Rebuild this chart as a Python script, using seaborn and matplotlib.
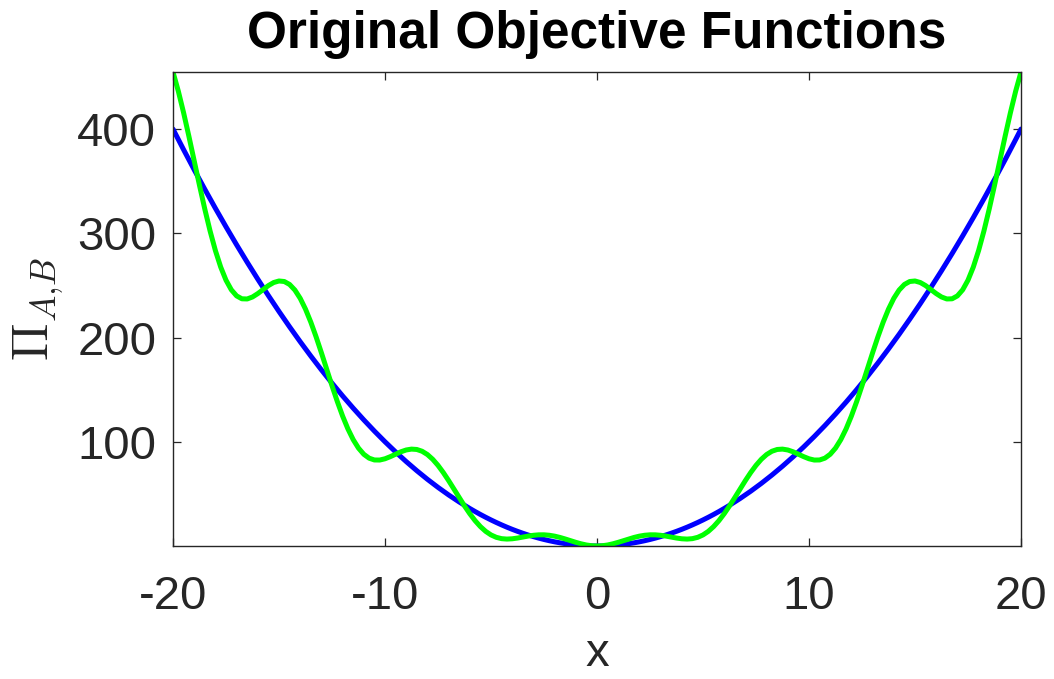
import matplotlib
matplotlib.use("Agg")
import matplotlib.pyplot as plt
import seaborn as sns
import pandas as pd

# sample positions along x
x_vals = [
    -20.0, -19.75, -19.5, -19.25, -19.0, -18.75, -18.5, -18.25, -18.0, -17.75,
    -17.5, -17.25, -17.0, -16.75, -16.5, -16.25, -16.0, -15.75, -15.5, -15.25,
    -15.0, -14.75, -14.5, -14.25, -14.0, -13.75, -13.5, -13.25, -13.0, -12.75,
    -12.5, -12.25, -12.0, -11.75, -11.5, -11.25, -11.0, -10.75, -10.5, -10.25,
    -10.0, -9.75, -9.5, -9.25, -9.0, -8.75, -8.5, -8.25, -8.0, -7.75,
    -7.5, -7.25, -7.0, -6.75, -6.5, -6.25, -6.0, -5.75, -5.5, -5.25,
    -5.0, -4.75, -4.5, -4.25, -4.0, -3.75, -3.5, -3.25, -3.0, -2.75,
    -2.5, -2.25, -2.0, -1.75, -1.5, -1.25, -1.0, -0.75, -0.5, -0.25,
    0.0,
    0.25, 0.5, 0.75, 1.0, 1.25, 1.5, 1.75, 2.0, 2.25, 2.5,
    2.75, 3.0, 3.25, 3.5, 3.75, 4.0, 4.25, 4.5, 4.75, 5.0,
    5.25, 5.5, 5.75, 6.0, 6.25, 6.5, 6.75, 7.0, 7.25, 7.5,
    7.75, 8.0, 8.25, 8.5, 8.75, 9.0, 9.25, 9.5, 9.75, 10.0,
    10.25, 10.5, 10.75, 11.0, 11.25, 11.5, 11.75, 12.0, 12.25, 12.5,
    12.75, 13.0, 13.25, 13.5, 13.75, 14.0, 14.25, 14.5, 14.75, 15.0,
    15.25, 15.5, 15.75, 16.0, 16.25, 16.5, 16.75, 17.0, 17.25, 17.5,
    17.75, 18.0, 18.25, 18.5, 18.75, 19.0, 19.25, 19.5, 19.75, 20.0,
]

# objective A (smooth bowl)
pi_a = [
    400.0, 390.0625, 380.25, 370.5625, 361.0, 351.5625, 342.25, 333.0625, 324.0, 315.0625,
    306.25, 297.5625, 289.0, 280.5625, 272.25, 264.0625, 256.0, 248.0625, 240.25, 232.5625,
    225.0, 217.5625, 210.25, 203.0625, 196.0, 189.0625, 182.25, 175.5625, 169.0, 162.5625,
    156.25, 150.0625, 144.0, 138.0625, 132.25, 126.5625, 121.0, 115.5625, 110.25, 105.0625,
    100.0, 95.0625, 90.25, 85.5625, 81.0, 76.5625, 72.25, 68.0625, 64.0, 60.0625,
    56.25, 52.5625, 49.0, 45.5625, 42.25, 39.0625, 36.0, 33.0625, 30.25, 27.5625,
    25.0, 22.5625, 20.25, 18.0625, 16.0, 14.0625, 12.25, 10.5625, 9.0, 7.5625,
    6.25, 5.0625, 4.0, 3.0625, 2.25, 1.5625, 1.0, 0.5625, 0.25, 0.0625,
    0.0,
    0.0625, 0.25, 0.5625, 1.0, 1.5625, 2.25, 3.0625, 4.0, 5.0625, 6.25,
    7.5625, 9.0, 10.5625, 12.25, 14.0625, 16.0, 18.0625, 20.25, 22.5625, 25.0,
    27.5625, 30.25, 33.0625, 36.0, 39.0625, 42.25, 45.5625, 49.0, 52.5625, 56.25,
    60.0625, 64.0, 68.0625, 72.25, 76.5625, 81.0, 85.5625, 90.25, 95.0625, 100.0,
    105.0625, 110.25, 115.5625, 121.0, 126.5625, 132.25, 138.0625, 144.0, 150.0625, 156.25,
    162.5625, 169.0, 175.5625, 182.25, 189.0625, 196.0, 203.0625, 210.25, 217.5625, 225.0,
    232.5625, 240.25, 248.0625, 256.0, 264.0625, 272.25, 280.5625, 289.0, 297.5625, 306.25,
    315.0625, 324.0, 333.0625, 342.25, 351.5625, 361.0, 370.5625, 380.25, 390.0625, 400.0,
]

# objective B (bowl with ripples)
pi_b = [
    454.77, 436.49, 415.67, 393.07, 369.54, 345.97, 323.24, 302.17, 283.45, 267.62,
    255.03, 245.83, 239.97, 237.17, 237.02, 238.92, 242.18, 246.08, 249.85, 252.79,
    254.26, 253.76, 250.92, 245.54, 237.61, 227.26, 214.80, 200.67, 185.39, 169.55,
    153.76, 138.63, 124.68, 112.38, 102.05, 93.90, 88.00, 84.28, 82.54, 82.47,
    83.68, 85.72, 88.11, 90.39, 92.13, 92.96, 92.61, 90.90, 87.75, 83.19,
    77.36, 70.46, 62.80, 54.68, 46.44, 38.44, 30.97, 24.29, 18.61, 14.03,
    10.62, 8.32, 7.05, 6.65, 6.92, 7.63, 8.57, 9.51, 10.27, 10.71,
    10.74, 10.31, 9.46, 8.23, 6.74, 5.12, 3.52, 2.10, 0.97, 0.25,
    0.0,
    0.25, 0.97, 2.10, 3.52, 5.12, 6.74, 8.23, 9.46, 10.31, 10.74,
    10.71, 10.27, 9.51, 8.57, 7.63, 6.92, 6.65, 7.05, 8.32, 10.62,
    14.03, 18.61, 24.29, 30.97, 38.44, 46.44, 54.68, 62.80, 70.46, 77.36,
    83.19, 87.75, 90.90, 92.61, 92.96, 92.13, 90.39, 88.11, 85.72, 83.68,
    82.47, 82.54, 84.28, 88.00, 93.90, 102.05, 112.38, 124.68, 138.63, 153.76,
    169.55, 185.39, 200.67, 214.80, 227.26, 237.61, 245.54, 250.92, 253.76, 254.26,
    252.79, 249.85, 246.08, 242.18, 238.92, 237.02, 237.17, 239.97, 245.83, 255.03,
    267.62, 283.45, 302.17, 323.24, 345.97, 369.54, 393.07, 415.67, 436.49, 454.77,
]

x_ticks = [-20, -10, 0, 10, 20]
y_ticks = [100, 200, 300, 400]

AXIS_GREY = "#262626"

sns.set_theme(style="white")
plt.rcParams["font.family"] = ["Liberation Sans", "DejaVu Sans"]
plt.rcParams["mathtext.fontset"] = "cm"

df = pd.DataFrame({"x": x_vals, "A": pi_a, "B": pi_b})

fig = plt.figure(figsize=(10.54, 6.79), dpi=100)
ax = fig.add_axes([173 / 1054, 1 - 546 / 679, (1021 - 173) / 1054, (546 - 72) / 679])

sns.lineplot(data=df, x="x", y="A", ax=ax, color="#0000ff", linewidth=3.6,
             sort=False, estimator=None, solid_joinstyle="round")
sns.lineplot(data=df, x="x", y="B", ax=ax, color="#00ff00", linewidth=3.6,
             sort=False, estimator=None, solid_joinstyle="round")

ax.set_xlim(min(x_vals), max(x_vals))
ax.set_ylim(min(pi_a + pi_b), max(pi_a + pi_b))
ax.set_xticks(x_ticks)
ax.set_yticks(y_ticks)
ax.set_xticklabels([str(t) for t in x_ticks])
ax.set_yticklabels([str(t) for t in y_ticks])

for side in ["left", "right", "top", "bottom"]:
    ax.spines[side].set_visible(True)
    ax.spines[side].set_color(AXIS_GREY)
    ax.spines[side].set_linewidth(1.0)

ax.tick_params(axis="both", which="major", direction="in", length=6, width=0.9,
               color=AXIS_GREY, labelcolor=AXIS_GREY, labelsize=34,
               top=True, right=True, bottom=True, left=True)
ax.tick_params(axis="x", pad=21)
ax.tick_params(axis="y", pad=12)

ax.set_xlabel("x", fontsize=34, color=AXIS_GREY, labelpad=9)
ax.set_ylabel(r"$\Pi_{A{,}B}$", fontsize=36, color=AXIS_GREY, labelpad=8)
ax.set_title("Original Objective Functions", fontsize=37, fontweight="bold",
             color="black", pad=17)

fig.savefig("out.png", dpi=100)
